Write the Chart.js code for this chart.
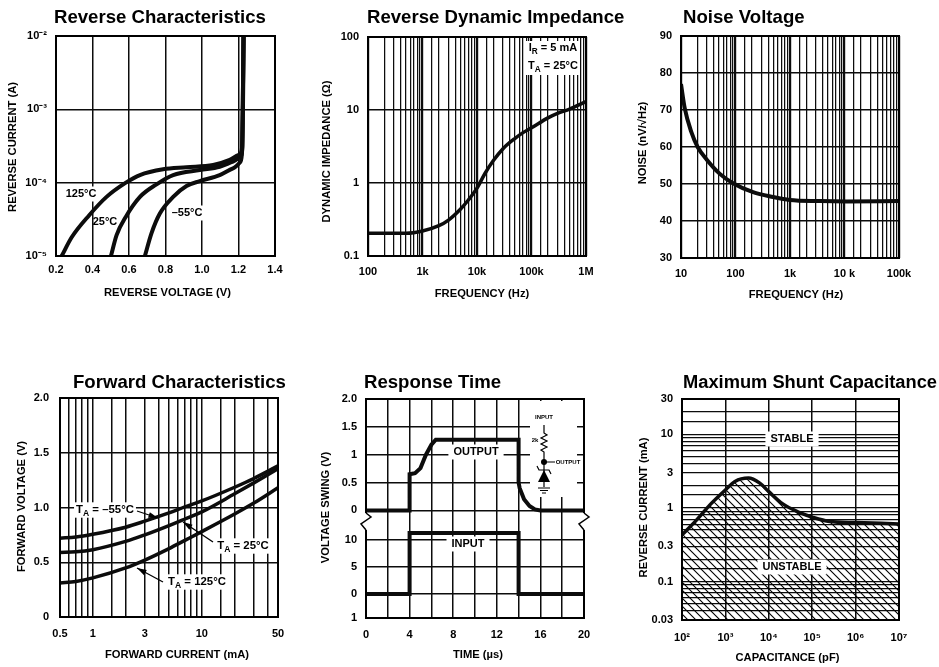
<!DOCTYPE html>
<html>
<head>
<meta charset="utf-8">
<style>
html,body{margin:0;padding:0;background:#fff;width:939px;height:667px;overflow:hidden}
canvas{position:absolute;display:block}
</style>
<script src="https://cdn.jsdelivr.net/npm/chart.js@4/dist/chart.umd.min.js"></script>
</head>
<body>
<script>
// ---------- Reverse Characteristics ----------
const rcVolt125 = [0.231,0.286,0.382,0.477,0.583,0.660,0.787,0.915,1.061,1.152,1.201,1.218,1.225,1.229];
const rcAmp125  = [1e-5,1.8e-5,3.6e-5,6.4e-5,1e-4,1.27e-4,1.52e-4,1.62e-4,1.74e-4,2.04e-4,2.38e-4,2.79e-4,1.34e-3,1e-2];
const rcVolt25  = [0.501,0.532,0.583,0.660,0.751,0.842,0.988,1.097,1.170,1.211,1.221,1.227];
const rcAmp25   = [1e-5,1.93e-5,3.44e-5,6.4e-5,9.5e-5,1.27e-4,1.49e-4,1.65e-4,1.93e-4,2.26e-4,3.1e-4,1e-2];
const rcVoltM55 = [0.687,0.723,0.769,0.842,0.915,0.988,1.097,1.170,1.211,1.221,1.227];
const rcAmpM55  = [1e-5,2.04e-5,3.8e-5,6.4e-5,9e-5,1.05e-4,1.27e-4,1.57e-4,1.93e-4,3.1e-4,1e-2];
const rcYTicks  = [1e-5,1e-4,1e-3,1e-2];
const rcYLabels = ['10⁻⁵','10⁻⁴','10⁻³','10⁻²'];
// ---------- Reverse Dynamic Impedance ----------
const zFreq = [100,500,1000,2000,3000,5000,7000,10000,14000,20000,30000,50000,70000,100000,200000,300000,500000,1000000];
const zOhm  = [0.205,0.205,0.22,0.26,0.31,0.44,0.59,0.85,1.35,2.03,2.95,4.1,4.9,5.7,7.8,9.0,10.3,13];
const zXTicks  = [100,1000,10000,100000,1000000];
const zXLabels = ['100','1k','10k','100k','1M'];
const zYTicks  = [0.1,1,10,100];
const zYLabels = ['0.1','1','10','100'];
// ---------- Noise Voltage ----------
const nFreq = [10,11.7,15.5,20.2,30,51,90,210,490,990,3500,10900,100000];
const nVolt = [77,70.5,64,60,56.5,52.8,50.2,47.8,46.5,45.7,45.4,45.3,45.4];
const nXTicks  = [10,100,1000,10000,100000];
const nXLabels = ['10','100','1k','10 k','100k'];
// ---------- Forward Characteristics ----------
const fCurrent = [0.5,0.7,1,2,3,5,7,10,20,30,50];
const fVoltM55 = [0.72,0.73,0.755,0.82,0.875,0.95,1.005,1.06,1.185,1.265,1.38];
const fVolt25  = [0.59,0.595,0.615,0.69,0.75,0.835,0.895,0.96,1.125,1.225,1.355];
const fVolt125 = [0.31,0.325,0.357,0.448,0.52,0.625,0.70,0.78,0.94,1.04,1.18];
const fXTicks  = [0.5,1,3,10,50];
const fXLabels = ['0.5','1','3','10','50'];
const fYTicks  = [0,0.5,1,1.5,2];
const fYLabels = ['0','0.5','1.0','1.5','2.0'];
// ---------- Response Time ----------
const outTime = [0,4,4,4.5,5,5.5,6,6.4,14,14,14.1,14.5,15,15.5,16,20];
const outVolt = [0,0,0.65,0.67,0.76,1.0,1.18,1.27,1.27,0.5,0.4,0.2,0.08,0.02,0,0];
const inTime  = [0,4,4,14,14,20];
const inVolt  = [0,0,11.3,11.3,0,0];
const rtOutTicks  = [0,0.5,1,1.5,2];
const rtOutLabels = ['0','0.5','1','1.5','2.0'];
const rtInTicks   = [10,5,0,-4.44];
const rtInLabels  = ['10','5','0','1'];
// ---------- Maximum Shunt Capacitance ----------
const cPf = [100,218,440,1000,1660,3400,6200,10000,21000,52000,100000,250000,1000000,10000000];
const cMa = [0.429,0.686,1.097,1.75,2.28,2.53,2.16,1.66,1.13,0.86,0.747,0.652,0.63,0.605];
const cXTicks  = [1e2,1e3,1e4,1e5,1e6,1e7];
const cXLabels = ['10²','10³','10⁴','10⁵','10⁶','10⁷'];
const cYTicks  = [0.03,0.1,0.3,1,3,10,30];
const cYLabels = ['0.03','0.1','0.3','1','3','10','30'];

// ---------- helpers ----------
const INK = '#0c0c0c';
const SANS = '"Liberation Sans",Arial,sans-serif';
const pts = (xs, ys) => xs.map((x, i) => ({x, y: ys[i]}));
const labelsFor = (vals, labs) => v => {
  const i = vals.findIndex(t => Math.abs(v - t) <= 1e-6 * Math.max(Math.abs(t), 1e-9));
  return i < 0 ? '' : labs[i];
};
const only = vals => s => { s.ticks = s.ticks.filter(t => vals.some(v => Math.abs(t.value - v) <= 1e-6 * Math.abs(v || 1))); };
const isDecade = v => Math.abs(Math.log10(v) - Math.round(Math.log10(v))) < 1e-9;
const decadeWidth = c => (c.tick && isDecade(c.tick.value)) ? 2.2 : 1.25;
const curve = (data, extra) => Object.assign({data, borderColor: INK, borderWidth: 3.5, pointRadius: 0,
  cubicInterpolationMode: 'monotone', fill: false, borderCapStyle: 'butt'}, extra || {});

function hatchPattern() {
  const c = document.createElement('canvas'); c.width = 8; c.height = 8;
  const g = c.getContext('2d'); g.strokeStyle = '#000'; g.lineWidth = 1.1;
  g.beginPath(); g.moveTo(-2,-2); g.lineTo(10,10); g.moveTo(6,-2); g.lineTo(10,2); g.moveTo(-2,6); g.lineTo(2,10); g.stroke();
  return g.createPattern(c, 'repeat');
}

// rich text: "_X" lowers one capital letter as a subscript
function drawRich(ctx, text, cx, cy, size, white, pad) {
  const parts = text.split(/(_[A-Z])/).filter(Boolean);
  const font = s => `bold ${s}px ${SANS}`;
  let w = 0;
  parts.forEach(p => { const sub = p[0] === '_'; ctx.font = font(sub ? size * 0.75 : size); w += ctx.measureText(sub ? p[1] : p).width; });
  if (white) { ctx.fillStyle = '#fff'; ctx.fillRect(cx - w/2 - pad, cy - size/2 - 2, w + 2*pad, size + 4); }
  let x = cx - w/2;
  ctx.fillStyle = '#000'; ctx.textAlign = 'left'; ctx.textBaseline = 'middle';
  parts.forEach(p => { const sub = p[0] === '_'; const t = sub ? p[1] : p;
    ctx.font = font(sub ? size * 0.75 : size); ctx.fillText(t, x, cy + (sub ? size * 0.3 : 0)); x += ctx.measureText(t).width; });
}
function drawArrow(ctx, a, b, ox, oy) {
  const x0 = a[0]-ox, y0 = a[1]-oy, x1 = b[0]-ox, y1 = b[1]-oy, ang = Math.atan2(y1-y0, x1-x0);
  ctx.strokeStyle = '#000'; ctx.lineWidth = 1.3; ctx.beginPath(); ctx.moveTo(x0,y0); ctx.lineTo(x1,y1); ctx.stroke();
  ctx.fillStyle = '#000'; ctx.beginPath(); ctx.moveTo(x1,y1);
  ctx.lineTo(x1 - 10*Math.cos(ang-0.3), y1 - 10*Math.sin(ang-0.3));
  ctx.lineTo(x1 - 10*Math.cos(ang+0.3), y1 - 10*Math.sin(ang+0.3)); ctx.closePath(); ctx.fill();
}

const panelPlugin = {
  id: 'panel',
  afterLayout(chart, args, o) {
    const c = o.cfg, tb = chart.titleBlock;
    tb.left = c.titleX - c.cell[0]; tb.right = tb.left + 420;
    const shift = (sc, dx, dy) => {
      if ((!dx && !dy) || sc._shifted) return; sc._shifted = true;
      const orig = sc.drawTitle;
      sc.drawTitle = function (a) { const g = this.ctx; g.save(); g.translate(dx, dy); orig.call(this, a); g.restore(); };
    };
    shift(chart.scales.x, c.xTitleDx, 0); shift(chart.scales.y, 0, c.yTitleDy);
  },
  afterDatasetsDraw(chart, args, o) {
    const c = o.cfg, ctx = chart.ctx, a = chart.chartArea, ox = c.cell[0], oy = c.cell[1];
    ctx.save();
    if (c.patch) { ctx.fillStyle = '#fff'; const p = c.patch; ctx.fillRect(p[0]-ox, p[1]-oy, p[2]-p[0], p[3]-p[1]); }
    ctx.strokeStyle = '#000'; ctx.lineWidth = 2;
    ctx.strokeRect(a.left, a.top, a.right - a.left, a.bottom - a.top);
    if (c.breaks) c.breaks(ctx, a, ox, oy);
    if (c.circuit) c.circuit(ctx, ox, oy);
    (c.notes || []).forEach(n => drawRich(ctx, n.text, n.at[0]-ox, n.at[1]-oy, n.size || 11, n.white !== false, n.pad === undefined ? 2 : n.pad));
    (c.arrows || []).forEach(r => drawArrow(ctx, r[0], r[1], ox, oy));
    ctx.restore();
  }
};

function axis(type, min, max, side, cfg, extra) {
  const isX = side === 'x';
  const e = extra || {};
  const a = {
    type, min, max, display: true, position: isX ? 'bottom' : 'left',
    grid: {color: INK, lineWidth: e.gridWidth || 1.25, drawTicks: false},
    border: {display: false},
    ticks: {color: '#000', font: {family: SANS, size: 11, weight: 'bold'}, autoSkip: false, maxRotation: 0, minRotation: 0,
            padding: isX ? cfg.xTickPad : cfg.yTickPad},
    title: {display: true, color: '#000', font: {family: SANS, size: 11.2, weight: 'bold', lineHeight: 1.2},
            text: isX ? cfg.xTitle : cfg.yTitle,
            padding: isX ? {top: 0, bottom: cfg.cell[1] + cfg.cell[3] - cfg.xTitleY - 6.7}
                         : {top: cfg.yTitleX - cfg.cell[0] - 6.7, bottom: 0}},
    afterFit: isX ? s => { s.height = cfg.cell[1] + cfg.cell[3] - cfg.plot[3]; }
                  : s => { s.width = cfg.plot[0] - cfg.cell[0]; }
  };
  if (e.afterBuildTicks) a.afterBuildTicks = e.afterBuildTicks;
  if (e.tickCb) a.ticks.callback = e.tickCb;
  if (e.step) a.ticks.stepSize = e.step;
  return a;
}

function panel(cfg, datasets, x, y, extraScales) {
  const cv = document.createElement('canvas');
  cv.width = cfg.cell[2]; cv.height = cfg.cell[3];
  cv.style.left = cfg.cell[0] + 'px'; cv.style.top = cfg.cell[1] + 'px';
  cv.style.width = cfg.cell[2] + 'px'; cv.style.height = cfg.cell[3] + 'px';
  document.body.appendChild(cv);
  const size = cfg.titleSize || 18.6;
  const tTop = cfg.titleY - cfg.cell[1] - size * 0.6;
  return new Chart(cv, {
    type: 'line',
    data: {datasets},
    plugins: [panelPlugin],
    options: {
      responsive: false, animation: false, devicePixelRatio: 1,
      layout: {padding: {left: 0, top: 0, bottom: 0, right: cfg.cell[0] + cfg.cell[2] - cfg.plot[2]}},
      plugins: {
        legend: {display: false}, tooltip: {enabled: false},
        title: {display: true, text: cfg.title, align: 'start', color: '#000',
                font: {family: SANS, size, weight: 'bold', lineHeight: 1.2},
                padding: {top: tTop, bottom: cfg.plot[1] - cfg.cell[1] - tTop - 1.2 * size}},
        panel: {cfg}
      },
      scales: Object.assign({x, y}, extraScales || {})
    }
  });
}

// ---------- panels ----------
const p1 = {cell:[0,0,310,330], plot:[56,36,275,256], title:'Reverse Characteristics', titleX:54, titleY:18,
  xTitle:'REVERSE VOLTAGE (V)', yTitle:'REVERSE CURRENT (A)', xTitleY:293, yTitleX:13, xTitleDx:2, yTitleDy:1, xTickPad:7, yTickPad:9,
  notes:[{text:'125°C',at:[81,194],pad:1},{text:'25°C',at:[105,222],white:false},{text:'–55°C',at:[187,213],pad:1}]};
panel(p1, [curve(pts(rcVolt125,rcAmp125),{borderWidth:4}), curve(pts(rcVolt25,rcAmp25),{borderWidth:4}), curve(pts(rcVoltM55,rcAmpM55),{borderWidth:4})],
  axis('linear',0.2,1.4,'x',p1,{step:0.2,gridWidth:1.5,tickCb:v=>v.toFixed(1)}),
  axis('logarithmic',1e-5,1e-2,'y',p1,{gridWidth:1.5,afterBuildTicks:only(rcYTicks),tickCb:labelsFor(rcYTicks,rcYLabels)}));

const p2 = {cell:[310,0,330,330], plot:[368,37,586,256], title:'Reverse Dynamic Impedance', titleX:367, titleY:18,
  xTitle:'FREQUENCY (Hz)', yTitle:'DYNAMIC IMPEDANCE (Ω)', xTitleY:294, yTitleX:327, xTitleDx:5, yTitleDy:5, xTickPad:9, yTickPad:9,
  patch:[525,41,580,75],
  notes:[{text:'I_R = 5 mA',at:[553,48],white:false},{text:'T_A = 25°C',at:[553,66],white:false}]};
panel(p2, [curve(pts(zFreq,zOhm))],
  axis('logarithmic',100,1e6,'x',p2,{gridWidth:decadeWidth,tickCb:labelsFor(zXTicks,zXLabels)}),
  axis('logarithmic',0.1,100,'y',p2,{gridWidth:1.5,afterBuildTicks:only(zYTicks),tickCb:labelsFor(zYTicks,zYLabels)}));

const p3 = {cell:[620,0,319,330], plot:[681,36,899,258], title:'Noise Voltage', titleX:683, titleY:18,
  xTitle:'FREQUENCY (Hz)', yTitle:'NOISE (nV/√Hz)', xTitleY:295, yTitleX:643, xTitleDx:6, yTitleDy:-4, xTickPad:9, yTickPad:9};
panel(p3, [curve(pts(nFreq,nVolt),{borderWidth:4})],
  axis('logarithmic',10,1e5,'x',p3,{gridWidth:decadeWidth,tickCb:labelsFor(nXTicks,nXLabels)}),
  axis('linear',30,90,'y',p3,{step:10,gridWidth:1.5}));

const p4 = {cell:[0,360,310,307], plot:[60,398,278,617], title:'Forward Characteristics', titleX:73, titleY:383,
  xTitle:'FORWARD CURRENT (mA)', yTitle:'FORWARD VOLTAGE (V)', xTitleY:655, yTitleX:22, xTitleDx:8, yTitleDy:-1, xTickPad:10, yTickPad:11,
  notes:[{text:'T_A = –55°C',at:[105,510],size:11.4},{text:'T_A = 25°C',at:[243,546],size:11.4},{text:'T_A = 125°C',at:[197,582],size:11.4}],
  arrows:[[[137,511],[158,518]],[[213,542],[183,522]],[[163,582],[137,568]]]};
panel(p4, [curve(pts(fCurrent,fVoltM55)), curve(pts(fCurrent,fVolt25)), curve(pts(fCurrent,fVolt125))],
  axis('logarithmic',0.5,50,'x',p4,{gridWidth:1.5,tickCb:labelsFor(fXTicks,fXLabels)}),
  axis('linear',0,2,'y',p4,{step:0.5,gridWidth:1.5,tickCb:labelsFor(fYTicks,fYLabels)}));

// Response time: a broken axis, so volts out and volts in each have their own scale
const outMin = -1.93, outMax = 2, inMin = -4.44, inMax = 36.1;
const inOnOut = v => outMin + (v - inMin) / (inMax - inMin) * (outMax - outMin);
const rtVals = rtOutTicks.concat(rtInTicks.map(inOnOut));
const rtLabs = rtOutLabels.concat(rtInLabels);
const p5 = {cell:[310,360,310,307], plot:[366,399,584,618], title:'Response Time', titleX:364, titleY:383,
  xTitle:'TIME (µs)', yTitle:'VOLTAGE SWING (V)', xTitleY:655, yTitleX:326, xTitleDx:3, yTitleDy:-1, xTickPad:10, yTickPad:9,
  patch:[530,401,577,497],
  notes:[{text:'OUTPUT',at:[476,452],pad:5},{text:'INPUT',at:[468,544],pad:5}],
  breaks(ctx, a, ox, oy) {
    const zig = x => {
      ctx.fillStyle = '#fff'; ctx.fillRect(x-3, 513-oy, 6, 17);
      ctx.strokeStyle = '#000'; ctx.lineWidth = 1.5; ctx.beginPath();
      ctx.moveTo(x, 513-oy); ctx.lineTo(x+5, 517-oy); ctx.lineTo(x-5, 524-oy); ctx.lineTo(x, 530-oy); ctx.stroke();
    };
    zig(a.left); zig(a.right);
  },
  circuit(ctx, ox, oy) {
    const X = 544-ox, Y = v => v-oy;
    ctx.strokeStyle = '#000'; ctx.lineWidth = 1.2; ctx.beginPath();
    ctx.moveTo(X, Y(425)); ctx.lineTo(X, Y(433));
    [[3,435],[-3,438],[3,441],[-3,444],[3,447],[-3,450]].forEach(p => ctx.lineTo(X+p[0], Y(p[1])));
    ctx.lineTo(X, Y(452)); ctx.lineTo(X, Y(487));
    ctx.moveTo(X, Y(462)); ctx.lineTo(X+11, Y(462));
    ctx.moveTo(X-7, Y(466)); ctx.lineTo(X-5, Y(470)); ctx.lineTo(X+5, Y(470)); ctx.lineTo(X+7, Y(474));
    ctx.moveTo(X-6, Y(488)); ctx.lineTo(X+6, Y(488));
    ctx.moveTo(X-4, Y(490.5)); ctx.lineTo(X+4, Y(490.5));
    ctx.moveTo(X-2, Y(493)); ctx.lineTo(X+2, Y(493));
    ctx.stroke();
    ctx.fillStyle = '#000'; ctx.beginPath(); ctx.arc(X, Y(462), 3, 0, 7); ctx.fill();
    ctx.beginPath(); ctx.moveTo(X, Y(470)); ctx.lineTo(X-6, Y(482)); ctx.lineTo(X+6, Y(482)); ctx.closePath(); ctx.fill();
    drawRich(ctx, 'INPUT', X, Y(417), 6, false, 0);
    drawRich(ctx, 'OUTPUT', X+24, Y(462), 6, false, 0);
    drawRich(ctx, '2k', X-9, Y(440), 6, false, 0);
  }};
panel(p5, [
    curve(pts(outTime,outVolt),{borderWidth:4,cubicInterpolationMode:'default',tension:0,borderJoinStyle:'miter',yAxisID:'y'}),
    curve(pts(inTime,inVolt),{borderWidth:4,cubicInterpolationMode:'default',tension:0,borderJoinStyle:'miter',yAxisID:'yInput'})],
  axis('linear',0,20,'x',p5,{step:2,gridWidth:1.5,tickCb:v=>v%4===0?String(v):''}),
  axis('linear',outMin,outMax,'y',p5,{gridWidth:1.5,afterBuildTicks:s=>{s.ticks=rtVals.map(value=>({value}));},tickCb:labelsFor(rtVals,rtLabs)}),
  {yInput:{type:'linear',min:inMin,max:inMax,display:false,position:'left'}});

const p6 = {cell:[620,360,319,307], plot:[682,399,899,620], title:'Maximum Shunt Capacitance', titleSize:18.3, titleX:683, titleY:383,
  xTitle:'CAPACITANCE (pF)', yTitle:'REVERSE CURRENT (mA)', xTitleY:658, yTitleX:644, xTitleDx:-3, yTitleDy:-2, xTickPad:11, yTickPad:9,
  notes:[{text:'STABLE',at:[792,439],pad:5},{text:'UNSTABLE',at:[792,567],pad:5}]};
panel(p6, [curve(pts(cPf,cMa),{fill:'start',backgroundColor:hatchPattern()})],
  axis('logarithmic',1e2,1e7,'x',p6,{gridWidth:1.5,afterBuildTicks:only(cXTicks),tickCb:labelsFor(cXTicks,cXLabels)}),
  axis('logarithmic',0.03,30,'y',p6,{tickCb:labelsFor(cYTicks,cYLabels)}));
</script>
</body>
</html>
